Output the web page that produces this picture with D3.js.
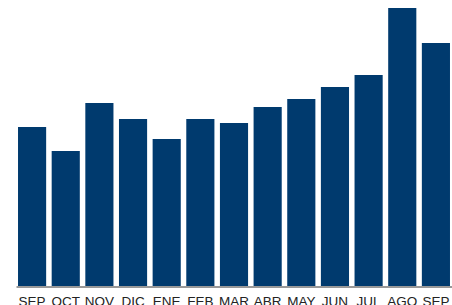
<!DOCTYPE html>
<html>
<head>
<meta charset="utf-8">
<script src="https://cdn.jsdelivr.net/npm/d3@7"></script>
<style>
  body { margin: 0; background: #fff; }
  svg { display: block; }
</style>
</head>
<body>
<div id="chart"></div>
<script>
// meses (eje x) y valores de cada barra
var months = ['SEP', 'OCT', 'NOV', 'DIC', 'ENE', 'FEB', 'MAR', 'ABR', 'MAY', 'JUN', 'JUL', 'AGO', 'SEP'];
var values = [159, 135, 183, 167, 147, 167, 163, 179, 187, 199, 211, 278, 243];

var W = 452, H = 305;
var margin = {top: 8, right: 0, bottom: 19, left: 16};
var barColor = '#003a6e';

var svg = d3.select('#chart').append('svg')
    .attr('width', W)
    .attr('height', H);

var x = d3.scaleBand()
    .domain(d3.range(months.length))
    .range([margin.left, W - margin.right])
    .paddingInner(0.164)
    .paddingOuter(0.06);

var y = d3.scaleLinear()
    .domain([0, d3.max(values)])
    .range([H - margin.bottom, margin.top]);

svg.append('g')
    .selectAll('rect')
    .data(values)
    .enter()
    .append('rect')
    .attr('x', function(d, i) { return x(i); })
    .attr('y', function(d) { return y(d); })
    .attr('width', x.bandwidth())
    .attr('height', function(d) { return y(0) - y(d); })
    .attr('fill', barColor);

var xAxis = d3.axisBottom(x)
    .tickSize(0)
    .tickPadding(10)
    .tickFormat(function(i) { return months[i]; });

var gx = svg.append('g')
    .attr('transform', 'translate(0,' + (y(0) + 0.5) + ')')
    .call(xAxis);

gx.select('.domain')
    .attr('stroke', '#333')
    .attr('stroke-width', 1);

gx.selectAll('text')
    .attr('fill', '#222')
    .style('font-family', 'Liberation Sans, Arial, sans-serif')
    .style('font-size', '13.5px');
</script>
</body>
</html>
